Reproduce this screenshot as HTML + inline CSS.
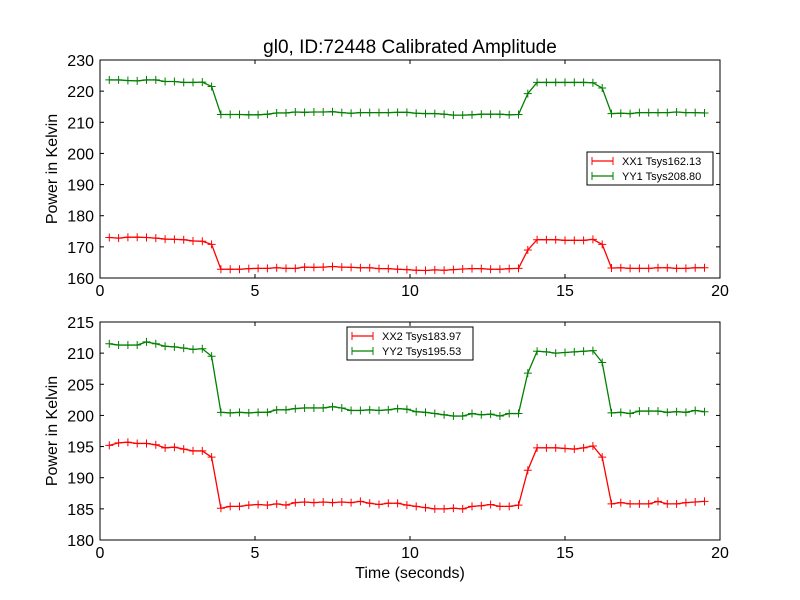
<!DOCTYPE html>
<html><head><meta charset="utf-8"><style>
body{margin:0;background:#fff}
svg{display:block;font-family:"Liberation Sans","DejaVu Sans",sans-serif}
</style></head><body>
<svg id="fig" width="800" height="600" viewBox="0 0 800 600">
<rect width="800" height="600" fill="#fff"/>
<text x="410" y="53" font-size="19" text-anchor="middle">gl0, ID:72448 Calibrated Amplitude</text>
<text x="410" y="578" font-size="16" text-anchor="middle">Time (seconds)</text>
</svg>
<script>
const xTicks = [0, 5, 10, 15, 20];
const topYTicks = [160, 170, 180, 190, 200, 210, 220, 230];
const botYTicks = [180, 185, 190, 195, 200, 205, 210, 215];
const step = 0.3;
const xx1 = [173.0,172.8,173.1,173.1,173.0,172.8,172.5,172.4,172.3,171.9,171.8,170.8,
162.8,162.8,162.8,163.0,163.1,163.1,163.3,163.1,163.1,163.5,163.4,163.5,163.7,163.5,163.4,163.3,163.3,163.0,163.0,162.8,162.7,162.5,162.4,162.6,162.5,162.7,162.9,163.0,163.0,162.8,162.8,163.0,163.1,
169.0,172.3,172.3,172.3,172.1,172.1,172.1,172.4,170.8,
163.2,163.3,163.1,163.1,163.1,163.3,163.3,163.1,163.1,163.3,163.3];
const yy1 = [223.6,223.6,223.4,223.3,223.6,223.6,223.1,223.1,222.8,222.8,222.9,221.5,
212.5,212.5,212.5,212.4,212.4,212.6,213.0,213.0,213.3,213.2,213.3,213.3,213.4,213.1,212.9,213.1,213.1,213.1,213.1,213.2,213.2,212.9,212.8,212.8,212.6,212.3,212.3,212.4,212.6,212.6,212.6,212.4,212.5,
219.2,222.8,222.8,222.8,222.8,222.8,222.8,222.7,221.0,
212.8,212.9,212.8,213.1,213.1,213.1,213.1,213.3,213.1,213.1,213.0];
const xx2 = [195.2,195.6,195.7,195.5,195.5,195.3,194.8,194.9,194.6,194.3,194.3,193.3,
185.1,185.4,185.4,185.6,185.7,185.6,185.8,185.6,186.0,186.1,186.0,186.1,186.0,186.1,186.0,186.2,185.9,185.7,185.9,185.9,185.6,185.4,185.2,185.0,185.0,185.1,185.0,185.4,185.5,185.7,185.4,185.4,185.6,
191.2,194.8,194.8,194.8,194.7,194.6,194.8,195.1,193.3,
185.8,186.0,185.8,185.8,185.8,186.2,185.8,185.8,186.0,186.1,186.2];
const yy2 = [211.5,211.3,211.3,211.3,211.8,211.5,211.1,211.0,210.8,210.6,210.7,209.5,
200.5,200.4,200.5,200.4,200.5,200.5,200.9,200.9,201.1,201.2,201.2,201.2,201.4,201.2,200.8,200.8,200.9,200.8,200.9,201.1,201.0,200.6,200.5,200.3,200.1,199.9,199.9,200.3,200.1,200.2,199.9,200.3,200.3,
206.8,210.3,210.2,210.0,210.1,210.2,210.3,210.4,208.5,
200.4,200.5,200.3,200.7,200.7,200.7,200.5,200.6,200.5,200.8,200.6];
const topLabels = ["XX1 Tsys162.13", "YY1 Tsys208.80"];
const botLabels = ["XX2 Tsys183.97", "YY2 Tsys195.53"];

const NS = "http://www.w3.org/2000/svg";
const svg = document.getElementById("fig");
function mk(tag, attrs, parent) {
  const e = document.createElementNS(NS, tag);
  for (const k in attrs) e.setAttribute(k, attrs[k]);
  (parent || svg).appendChild(e);
  return e;
}
function panel(name, top, bottom, yTicks, s1, s2, labels, leg) {
  const L = 100, R = 720;
  const y0 = yTicks[0], y1 = yTicks[yTicks.length - 1];
  const xs = v => L + (v - xTicks[0]) / (xTicks[xTicks.length - 1] - xTicks[0]) * (R - L);
  const ys = v => bottom - (v - y0) / (y1 - y0) * (bottom - top);
  const g = mk("g", {});
  
  
  xTicks.forEach(t => {
    const x = xs(t);
    mk("line", {x1: x, x2: x, y1: bottom, y2: bottom - 4, stroke: "#000"}, g);
    mk("line", {x1: x, x2: x, y1: top, y2: top + 4, stroke: "#000"}, g);
    const tx = mk("text", {x: x, y: bottom + 18, "font-size": 16, "text-anchor": "middle"}, g);
    tx.textContent = t;
    
    
  });
  yTicks.forEach(t => {
    const y = ys(t);
    mk("line", {x1: L, x2: L + 4, y1: y, y2: y, stroke: "#000"}, g);
    mk("line", {x1: R, x2: R - 4, y1: y, y2: y, stroke: "#000"}, g);
    const tx = mk("text", {x: L - 6, y: y + 6, "font-size": 16, "text-anchor": "end"}, g);
    tx.textContent = t;
    
    
  });
  const yt = mk("text", {x: 0, y: 0, "font-size": 16, "text-anchor": "middle",
    transform: `translate(57,${(top + bottom) / 2}) rotate(-90)`}, g);
  yt.textContent = "Power in Kelvin";
  
  
  [[s1, "#ff0000", "xx-series"], [s2, "#008000", "yy-series"]].forEach(([d, c, nm]) => {
    const pts = d.map((v, i) => [xs(step * (i + 1)), ys(v)]);
    const pl = mk("polyline", {points: pts.map(p => p.join(",")).join(" "), fill: "none", stroke: c, "stroke-width": 1.3}, g);
    
    
    pts.forEach(p => {
      const m = mk("path", {d: `M${p[0] - 4},${p[1]}h8M${p[0]},${p[1] - 4}v8`, stroke: c, "stroke-width": 1}, g);
      
      
    });
  });
  const frame = mk("rect", {x: L, y: top, width: R - L, height: bottom - top, fill: "none", stroke: "#000", "stroke-width": 1}, g);
  
  
  const lg = mk("g", {}, g);
  
  
  mk("rect", {x: leg[0], y: leg[1], width: 126, height: 33, fill: "#fff", stroke: "#000", "stroke-width": 1}, lg);
  ["#ff0000", "#008000"].forEach((c, i) => {
    const yy = leg[1] + 9 + i * 15;
    mk("line", {x1: leg[0] + 5, x2: leg[0] + 26, y1: yy, y2: yy, stroke: c, "stroke-width": 1.3}, lg);
    mk("path", {d: `M${leg[0] + 5},${yy - 4}v8M${leg[0] + 26},${yy - 4}v8`, stroke: c}, lg);
    const t = mk("text", {x: leg[0] + 35, y: yy + 4, "font-size": 11}, lg);
    t.textContent = labels[i];
    
    
  });
}
panel("top-plot", 60, 278, topYTicks, xx1, yy1, topLabels, [587, 152]);
panel("bottom-plot", 322, 540, botYTicks, xx2, yy2, botLabels, [347, 327]);
</script>
</body></html>
